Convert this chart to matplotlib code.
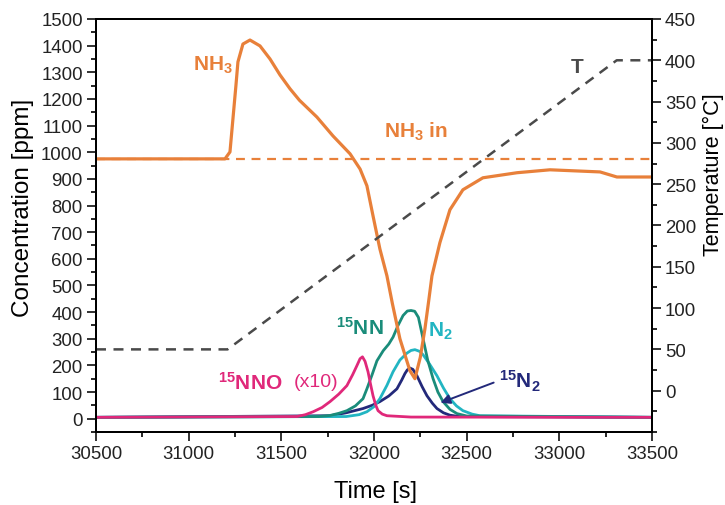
import matplotlib
matplotlib.use("Agg")
import matplotlib.pyplot as plt
from matplotlib.ticker import MultipleLocator

plt.rcParams["font.family"] = ["Liberation Sans", "DejaVu Sans"]
plt.rcParams["mathtext.default"] = "regular"

# --- data ---
nh3_t = [30500, 30800, 31000, 31196, 31223, 31239, 31255, 31266, 31293, 31331,
         31385, 31439, 31493, 31547, 31598, 31692, 31779, 31871, 31925, 31962,
         31995, 32032, 32070, 32100, 32140, 32194, 32221, 32250, 32275, 32295,
         32313, 32356, 32410, 32480, 32588, 32772, 32950, 33220, 33311, 33500]
nh3_ppm = [975, 975, 975, 975, 1001, 1125, 1249, 1339, 1406, 1421,
           1399, 1350, 1290, 1238, 1195, 1132, 1061, 994, 937, 874,
           761, 637, 536, 430, 300, 180, 150, 230, 337, 440,
           536, 661, 784, 859, 904, 923, 934, 926, 907, 907]
nh3_in = 975

temp_t = [30500, 31210, 33310, 33500]
temp_c = [50, 50, 400, 400]

nno_t = [30500, 31585, 31630, 31672, 31720, 31763, 31810, 31854, 31885, 31908,
         31925, 31938, 31952, 31968, 31982, 31995, 32010, 32022, 32045, 32070, 32200, 33500]
nno_ppm = [5, 8, 15, 26, 42, 64, 92, 124, 165, 199,
           225, 232, 215, 176, 128, 86, 50, 30, 17, 11, 6, 5]

nn15_t = [30500, 31700, 31763, 31810, 31854, 31900, 31941, 31962, 31990, 32016,
          32050, 32080, 32103, 32130, 32157, 32180, 32200, 32220, 32240, 32265,
          32290, 32319, 32345, 32373, 32410, 32448, 32500, 33500]
nn15_ppm = [5, 8, 12, 20, 30, 48, 75, 112, 165, 217,
            255, 280, 306, 350, 387, 404, 406, 403, 380, 300,
            220, 150, 100, 64, 35, 19, 10, 5]

n2_t = [30500, 31850, 31920, 31962, 32000, 32032, 32070, 32103, 32140, 32178,
        32200, 32221, 32245, 32265, 32300, 32340, 32375, 32410, 32445, 32480,
        32530, 32572, 33500]
n2_ppm = [5, 8, 15, 26, 45, 75, 125, 176, 220, 246,
          256, 259, 253, 240, 205, 161, 115, 75, 48, 30,
          17, 11, 5]

n15_2_t = [30500, 31763, 31850, 31941, 31990, 32032, 32080, 32124, 32150, 32167,
           32180, 32194, 32210, 32232, 32260, 32286, 32315, 32340, 32375, 32410,
           32460, 33500]
n15_2_ppm = [5, 11, 22, 38, 50, 64, 85, 112, 145, 169,
             183, 190, 185, 161, 120, 86, 58, 38, 22, 13,
             8, 5]

c_nh3 = "#e8803a"
c_t = "#4a4a4a"
c_nno = "#e0287a"
c_nn = "#1a8c7a"
c_n2 = "#22b5c2"
c_n15 = "#23297a"

fig = plt.figure(figsize=(7.25, 5.06), dpi=100)
ax = fig.add_axes([0.1324, 0.1443, 0.7668, 0.8162])
ax2 = ax.twinx()

ax.plot(n15_2_t, n15_2_ppm, color=c_n15, lw=2)
ax.plot(n2_t, n2_ppm, color=c_n2, lw=2)
ax.plot(nn15_t, nn15_ppm, color=c_nn, lw=2)
ax.plot(nno_t, nno_ppm, color=c_nno, lw=2)
ax.axhline(nh3_in, color=c_nh3, ls=(0, (4, 3)), lw=1.6)
ax.plot(nh3_t, nh3_ppm, color=c_nh3, lw=2.3)
ax2.plot(temp_t, temp_c, color=c_t, ls=(0, (4, 3)), lw=1.8)

ax.set_xlim(30500, 33500)
ax.set_ylim(-50, 1500)
ax2.set_ylim(-50, 450)

ax.xaxis.set_major_locator(MultipleLocator(500))
ax.xaxis.set_minor_locator(MultipleLocator(250))
ax.set_yticks(range(0, 1501, 100))
ax.yaxis.set_minor_locator(MultipleLocator(50))
ax2.set_yticks(range(0, 451, 50))
ax2.yaxis.set_minor_locator(MultipleLocator(25))

for a in (ax, ax2):
    a.tick_params(which="major", direction="out", length=6.5, width=1.3, labelsize=13.4,
                  colors="#222222", pad=3)
    a.tick_params(which="minor", direction="out", length=3.3, width=1.2)
    for s in a.spines.values():
        s.set_linewidth(1.4)

ax.set_xlabel("Time [s]", fontsize=17, va="center")
ax.xaxis.set_label_coords(0.502, -0.143)
ax.set_ylabel("Concentration [ppm]", fontsize=17.5, va="center")
ax.yaxis.set_label_coords(-0.131, 0.545)
ax2.set_ylabel("Temperature [°C]", fontsize=15.5, va="center")
ax2.yaxis.set_label_coords(1.11, 0.625)

ax.text(31131, 1331, "NH$_3$", color=c_nh3, fontsize=15, fontweight="bold", ha="center", va="center")
ax.text(32227, 1080, "NH$_3$ in", color=c_nh3, fontsize=15, fontweight="bold", ha="center", va="center")
ax.text(33095, 1320, "T", color=c_t, fontsize=15, fontweight="bold", ha="center", va="center")
ax.text(31925, 345, "$^{15}$NN", color=c_nn, fontsize=15, fontweight="bold", ha="center", va="center")
ax.text(32357, 330, "N$_2$", color=c_n2, fontsize=15, fontweight="bold", ha="center", va="center")
ax.text(32790, 142, "$^{15}$N$_2$", color=c_n15, fontsize=15, fontweight="bold", ha="center", va="center")
ax.text(31158, 139, "$^{15}$NNO", color=c_nno, fontsize=15, fontweight="bold", ha="left", va="center")
ax.text(31565, 139, "(x10)", color=c_nno, fontsize=14, ha="left", va="center")
ax.annotate("", xy=(32345, 56), xytext=(32660, 139),
            arrowprops=dict(arrowstyle="-|>", color=c_n15, lw=1.4, mutation_scale=14))

fig.savefig("out.png", dpi=100)
